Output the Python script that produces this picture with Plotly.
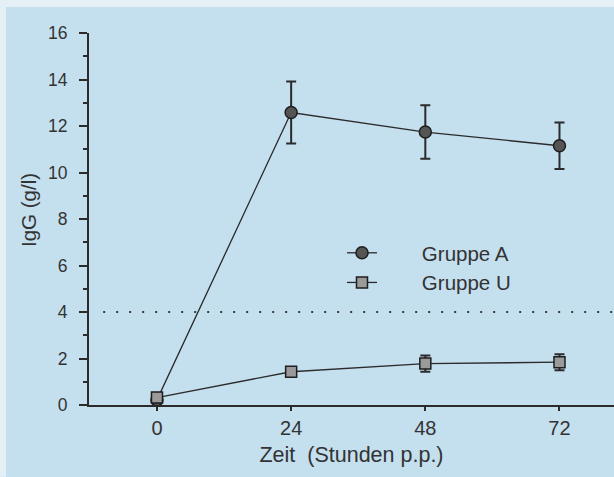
import plotly.graph_objects as go

hours = [0, 24, 48, 72]
gruppe_a = [0.22, 12.58, 11.74, 11.15]
gruppe_a_err = [0.1, 1.33, 1.15, 1.0]
gruppe_u = [0.32, 1.43, 1.78, 1.84]
gruppe_u_err = [0.2, 0.1, 0.35, 0.34]
y_ticks = [0, 2, 4, 6, 8, 10, 12, 14, 16]
x_ticks = [0, 24, 48, 72]
threshold = 4

BG = "#c4dfee"
INK = "#2b2b2b"
TXT = "#333333"
FONT = "Liberation Sans, Arial, sans-serif"
PAD = "\u00a0" * 7

fig = go.Figure()
fig.add_trace(go.Scatter(
    x=hours, y=gruppe_a, mode="lines+markers", name=PAD + "Gruppe A",
    line=dict(color=INK, width=1.3),
    marker=dict(symbol="circle", size=12, color="#555555", line=dict(color="#1e1e1e", width=1.5)),
    error_y=dict(type="data", array=gruppe_a_err, color=INK, thickness=2, width=5),
))
fig.add_trace(go.Scatter(
    x=hours, y=gruppe_u, mode="lines+markers", name=PAD + "Gruppe U",
    line=dict(color=INK, width=1.3),
    marker=dict(symbol="square", size=11, color="#9a9a9a", line=dict(color="#1e1e1e", width=1.5)),
    error_y=dict(type="data", array=gruppe_u_err, color=INK, thickness=2, width=5),
))

fig.add_shape(type="line", xref="paper", yref="y", x0=0.027, x1=1, y0=threshold, y1=threshold,
              line=dict(color="#3a3a3a", width=2, dash="2px,11px"), layer="below")
# scan paper edges
fig.add_shape(type="rect", xref="paper", yref="paper", x0=-89/525, x1=-83/525, y0=-72/373, y1=1+33/373,
              fillcolor="#e4eff6", line=dict(width=0), layer="below")
fig.add_shape(type="rect", xref="paper", yref="paper", x0=-89/525, x1=1, y0=1+26/373, y1=1+33/373,
              fillcolor="#e4eff6", line=dict(width=0), layer="below")

fig.add_annotation(text="IgG (g/l)", xref="paper", yref="paper", x=-61/525, y=(405.5-210)/373,
                   textangle=-90, showarrow=False, font=dict(size=20.5, color=TXT, family=FONT),
                   xanchor="center", yanchor="middle")

fig.update_layout(
    width=614, height=477,
    margin=dict(l=89, r=0, t=33, b=72),
    paper_bgcolor=BG, plot_bgcolor=BG,
    font=dict(family=FONT, color=TXT),
    showlegend=True,
    legend=dict(x=(342-89)/525, y=(405.5-233)/373, xanchor="left", yanchor="top",
                bgcolor="rgba(0,0,0,0)", font=dict(size=20.5, color=TXT, family=FONT),
                itemwidth=30, tracegroupgap=0),
    xaxis=dict(range=[-12.16, 81.75], tickvals=x_ticks, ticks="outside", ticklen=4, tickwidth=1.5,
               tickcolor=INK, showline=True, linecolor=INK, linewidth=2, showgrid=False, zeroline=False,
               tickfont=dict(size=20, color=TXT), ticklabelstandoff=0,
               title=dict(text="Zeit  (Stunden p.p.)", font=dict(size=21.5, color=TXT), standoff=9)),
    yaxis=dict(range=[0, 16], tickvals=y_ticks, ticks="outside", ticklen=8, tickwidth=1.5,
               tickcolor=INK, showline=True, linecolor=INK, linewidth=2, showgrid=False, zeroline=False,
               tickfont=dict(size=17.5, color=TXT), ticklabelstandoff=8,
               minor=dict(dtick=1, ticks="outside", ticklen=4, tickcolor=INK, tickwidth=1.5, showgrid=False)),
)

fig.write_html("out.html")
